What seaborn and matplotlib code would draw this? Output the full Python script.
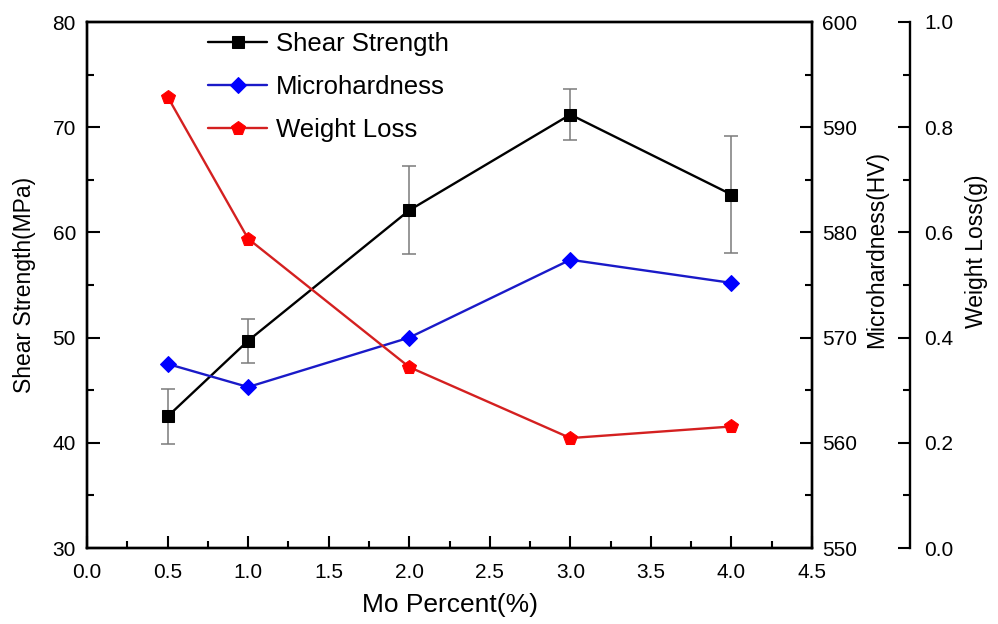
import matplotlib
matplotlib.use("Agg")
import matplotlib.pyplot as plt
import seaborn as sns
import pandas as pd
from matplotlib.ticker import MultipleLocator, FormatStrFormatter

# ---- data ----
mo_percent = [0.5, 1.0, 2.0, 3.0, 4.0]
shear_strength = [42.5, 49.7, 62.1, 71.2, 63.6]
shear_err = [2.6, 2.1, 4.2, 2.4, 5.6]
microhardness = [567.5, 565.3, 570.0, 577.4, 575.2]
weight_loss = [0.858, 0.588, 0.344, 0.209, 0.231]

df = pd.DataFrame({"mo": mo_percent, "shear": shear_strength, "err": shear_err,
                   "micro": microhardness, "wl": weight_loss})

sns.set_style("ticks")
plt.rcParams["font.family"] = ["Liberation Sans", "DejaVu Sans"]
plt.rcParams["text.color"] = "black"
plt.rcParams["axes.labelcolor"] = "black"

fig = plt.figure(figsize=(9.98, 6.24), dpi=100)
ax = fig.add_axes([87/998, 1-548/624, 725/998, 526/624])
ax2 = ax.twinx()
ax3 = ax.twinx()
ax3.spines["right"].set_position(("axes", (910-87)/725))
for s in ["top", "left", "bottom"]:
    ax3.spines[s].set_visible(False)

# error bars (grey) behind
ax.errorbar(df["mo"], df["shear"], yerr=df["err"], fmt="none", ecolor="#7a7a7a",
            elinewidth=1.1, capsize=5, capthick=1.1, zorder=1)

sns.lineplot(data=df, x="mo", y="shear", ax=ax, color="black", marker="s",
             markersize=9, markeredgecolor="black", linewidth=1.7, zorder=3)
sns.lineplot(data=df, x="mo", y="micro", ax=ax2, color="#1a1ac8", marker="D",
             markersize=8.5, markerfacecolor="#0000ff", markeredgecolor="#0000ff",
             linewidth=1.7, zorder=3)
sns.lineplot(data=df, x="mo", y="wl", ax=ax3, color="#d42020", marker="p",
             markersize=10.5, markerfacecolor="#ff0000", markeredgecolor="#ff0000",
             linewidth=1.7, zorder=3)

ax.set_xlim(0, 4.5)
ax.set_ylim(30, 80)
ax2.set_ylim(550, 600)
ax3.set_ylim(0, 1.0)

ax.xaxis.set_major_locator(MultipleLocator(0.5))
ax.xaxis.set_minor_locator(MultipleLocator(0.25))
ax.yaxis.set_major_locator(MultipleLocator(10))
ax.yaxis.set_minor_locator(MultipleLocator(5))
ax2.yaxis.set_major_locator(MultipleLocator(10))
ax2.yaxis.set_minor_locator(MultipleLocator(5))
ax3.yaxis.set_major_locator(MultipleLocator(0.2))
ax3.yaxis.set_minor_locator(MultipleLocator(0.1))
ax.xaxis.set_major_formatter(FormatStrFormatter("%.1f"))
ax3.yaxis.set_major_formatter(FormatStrFormatter("%.1f"))

for a in (ax, ax2, ax3):
    for sp in a.spines.values():
        sp.set_linewidth(1.7)
        sp.set_color("black")

ax.tick_params(axis="both", which="both", direction="in", width=1.5, labelsize=15,
               colors="black", top=False, right=False)
ax.tick_params(axis="both", which="major", length=9)
ax.tick_params(axis="both", which="minor", length=5)
ax.tick_params(axis="y", pad=8)
ax.tick_params(axis="x", pad=11)
for a, pad in ((ax2, 7), (ax3, 10)):
    a.tick_params(axis="y", which="both", direction="in", width=1.5, labelsize=15,
                  colors="black", pad=pad)
    a.tick_params(axis="y", which="major", length=9)
    a.tick_params(axis="y", which="minor", length=5)

ax.set_xlabel("Mo Percent(%)", fontsize=19, va="center", ha="center", color="black")
ax.xaxis.set_label_coords((450-87)/725, (548-605)/526)
ax.set_ylabel("Shear Strength(MPa)", fontsize=16.5, va="center", ha="center", color="black")
ax.yaxis.set_label_coords((25-87)/725, 0.5)
ax2.set_ylabel("Microhardness(HV)", fontsize=16.5, va="center", ha="center", color="black")
ax2.yaxis.set_label_coords((877-87)/725, 0.567)
ax3.set_ylabel("Weight Loss(g)", fontsize=16.5, va="center", ha="center", color="black")
ax3.yaxis.set_label_coords((977-87)/725, 0.564)

h1 = ax.get_lines()[-1]
h2 = ax2.get_lines()[-1]
h3 = ax3.get_lines()[-1]
for a in (ax, ax2, ax3):
    if a.get_legend() is not None:
        a.get_legend().remove()
leg = ax.legend([h1, h2, h3], ["Shear Strength", "Microhardness", "Weight Loss"],
                loc="upper left", bbox_to_anchor=(208/998, 1-32/624),
                bbox_transform=fig.transFigure, frameon=False, fontsize=18.5,
                borderpad=0, borderaxespad=0, handlelength=2.3, handletextpad=0.35,
                labelspacing=0.74)
for t in leg.get_texts():
    t.set_color("black")

fig.savefig("out.png", dpi=100)
